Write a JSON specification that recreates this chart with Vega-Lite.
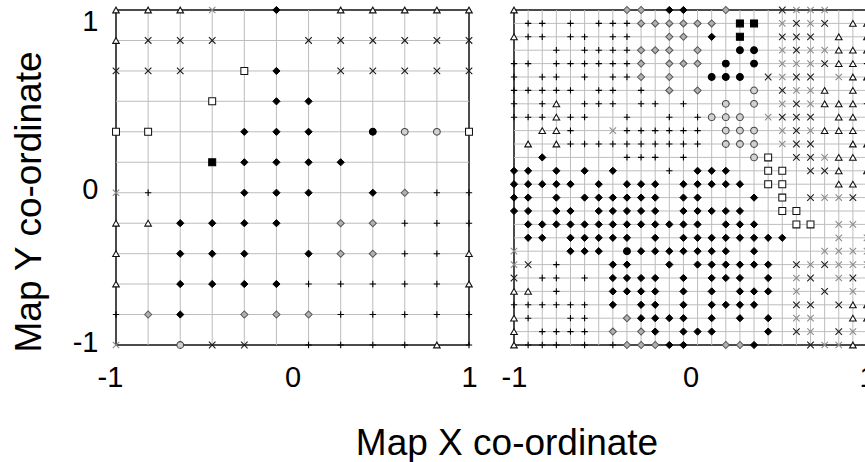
{
  "$schema": "https://vega.github.io/schema/vega-lite/v6.json",
  "background": "white",
  "padding": {"left": 9, "top": 3, "right": 0, "bottom": 0},
  "bounds": "flush",
  "spacing": 45,
  "config": {
    "font": "Liberation Sans",
    "view": {"stroke": "#111", "strokeWidth": 1.5},
    "axis": {"labelColor": "#000", "titleColor": "#000", "labelFont": "Liberation Sans", "titleFont": "Liberation Sans"}
  },
  "datasets": {
    "coarse": [
      {"x": -1, "y": 1, "class": 7}, {"x": -0.818, "y": 1, "class": 7}, {"x": -0.636, "y": 1, "class": 7}, {"x": -0.455, "y": 1, "class": 9}, {"x": -0.091, "y": 1, "class": 1}, {"x": 0.273, "y": 1, "class": 7}, {"x": 0.455, "y": 1, "class": 7}, {"x": 0.636, "y": 1, "class": 7}, {"x": 0.818, "y": 1, "class": 7}, {"x": 1, "y": 1, "class": 7},
      {"x": -1, "y": 0.818, "class": 7}, {"x": -0.818, "y": 0.818, "class": 8}, {"x": -0.636, "y": 0.818, "class": 8}, {"x": -0.455, "y": 0.818, "class": 8}, {"x": 0.091, "y": 0.818, "class": 8}, {"x": 0.273, "y": 0.818, "class": 8}, {"x": 0.455, "y": 0.818, "class": 8}, {"x": 0.636, "y": 0.818, "class": 8}, {"x": 0.818, "y": 0.818, "class": 8}, {"x": 1, "y": 0.818, "class": 8},
      {"x": -1, "y": 0.636, "class": 8}, {"x": -0.818, "y": 0.636, "class": 8}, {"x": -0.636, "y": 0.636, "class": 8}, {"x": -0.273, "y": 0.636, "class": 4}, {"x": -0.091, "y": 0.636, "class": 1}, {"x": 0.273, "y": 0.636, "class": 8}, {"x": 0.455, "y": 0.636, "class": 8}, {"x": 0.636, "y": 0.636, "class": 8}, {"x": 0.818, "y": 0.636, "class": 8}, {"x": 1, "y": 0.636, "class": 8},
      {"x": -0.455, "y": 0.455, "class": 4}, {"x": -0.091, "y": 0.455, "class": 1}, {"x": 0.091, "y": 0.455, "class": 1},
      {"x": -1, "y": 0.273, "class": 4}, {"x": -0.818, "y": 0.273, "class": 4}, {"x": -0.273, "y": 0.273, "class": 1}, {"x": -0.091, "y": 0.273, "class": 1}, {"x": 0.091, "y": 0.273, "class": 1}, {"x": 0.455, "y": 0.273, "class": 5}, {"x": 0.636, "y": 0.273, "class": 6}, {"x": 0.818, "y": 0.273, "class": 6}, {"x": 1, "y": 0.273, "class": 4},
      {"x": -0.455, "y": 0.091, "class": 3}, {"x": -0.273, "y": 0.091, "class": 1}, {"x": -0.091, "y": 0.091, "class": 1}, {"x": 0.091, "y": 0.091, "class": 1}, {"x": 0.273, "y": 0.091, "class": 1},
      {"x": -1, "y": -0.091, "class": 9}, {"x": -0.818, "y": -0.091, "class": 10}, {"x": -0.273, "y": -0.091, "class": 1}, {"x": -0.091, "y": -0.091, "class": 1}, {"x": 0.091, "y": -0.091, "class": 1}, {"x": 0.455, "y": -0.091, "class": 1}, {"x": 0.636, "y": -0.091, "class": 2}, {"x": 0.818, "y": -0.091, "class": 10}, {"x": 1, "y": -0.091, "class": 10},
      {"x": -1, "y": -0.273, "class": 7}, {"x": -0.818, "y": -0.273, "class": 7}, {"x": -0.636, "y": -0.273, "class": 1}, {"x": -0.455, "y": -0.273, "class": 1}, {"x": -0.273, "y": -0.273, "class": 1}, {"x": -0.091, "y": -0.273, "class": 1}, {"x": 0.273, "y": -0.273, "class": 2}, {"x": 0.455, "y": -0.273, "class": 2}, {"x": 0.636, "y": -0.273, "class": 10}, {"x": 0.818, "y": -0.273, "class": 10}, {"x": 1, "y": -0.273, "class": 10},
      {"x": -1, "y": -0.455, "class": 7}, {"x": -0.636, "y": -0.455, "class": 1}, {"x": -0.455, "y": -0.455, "class": 1}, {"x": -0.273, "y": -0.455, "class": 1}, {"x": 0.091, "y": -0.455, "class": 1}, {"x": 0.273, "y": -0.455, "class": 2}, {"x": 0.455, "y": -0.455, "class": 2}, {"x": 0.636, "y": -0.455, "class": 10}, {"x": 0.818, "y": -0.455, "class": 10}, {"x": 1, "y": -0.455, "class": 7},
      {"x": -1, "y": -0.636, "class": 7}, {"x": -0.636, "y": -0.636, "class": 1}, {"x": -0.455, "y": -0.636, "class": 1}, {"x": -0.273, "y": -0.636, "class": 1}, {"x": -0.091, "y": -0.636, "class": 1}, {"x": 0.091, "y": -0.636, "class": 10}, {"x": 0.273, "y": -0.636, "class": 10}, {"x": 0.455, "y": -0.636, "class": 10}, {"x": 0.636, "y": -0.636, "class": 10}, {"x": 0.818, "y": -0.636, "class": 10}, {"x": 1, "y": -0.636, "class": 7},
      {"x": -1, "y": -0.818, "class": 10}, {"x": -0.818, "y": -0.818, "class": 2}, {"x": -0.636, "y": -0.818, "class": 1}, {"x": -0.273, "y": -0.818, "class": 2}, {"x": -0.091, "y": -0.818, "class": 2}, {"x": 0.091, "y": -0.818, "class": 2}, {"x": 0.273, "y": -0.818, "class": 10}, {"x": 0.455, "y": -0.818, "class": 10}, {"x": 0.636, "y": -0.818, "class": 10}, {"x": 0.818, "y": -0.818, "class": 10}, {"x": 1, "y": -0.818, "class": 10},
      {"x": -1, "y": -1, "class": 9}, {"x": -0.636, "y": -1, "class": 6}, {"x": -0.455, "y": -1, "class": 8}, {"x": -0.273, "y": -1, "class": 8}, {"x": 0.091, "y": -1, "class": 10}, {"x": 0.273, "y": -1, "class": 10}, {"x": 0.455, "y": -1, "class": 10}, {"x": 0.636, "y": -1, "class": 10}, {"x": 0.818, "y": -1, "class": 7}, {"x": 1, "y": -1, "class": 10}
    ],
    "fine": [
      {"x": -1, "y": 1, "class": 7}, {"x": -0.36, "y": 1, "class": 2}, {"x": -0.28, "y": 1, "class": 2}, {"x": -0.12, "y": 1, "class": 1}, {"x": -0.04, "y": 1, "class": 1}, {"x": 0.2, "y": 1, "class": 2}, {"x": 0.52, "y": 1, "class": 8}, {"x": 0.6, "y": 1, "class": 9}, {"x": 0.68, "y": 1, "class": 9}, {"x": 0.76, "y": 1, "class": 9},
      {"x": -0.92, "y": 0.92, "class": 10}, {"x": -0.84, "y": 0.92, "class": 10}, {"x": -0.68, "y": 0.92, "class": 10}, {"x": -0.52, "y": 0.92, "class": 10}, {"x": -0.44, "y": 0.92, "class": 10}, {"x": -0.36, "y": 0.92, "class": 10}, {"x": -0.28, "y": 0.92, "class": 2}, {"x": -0.2, "y": 0.92, "class": 2}, {"x": -0.12, "y": 0.92, "class": 2}, {"x": -0.04, "y": 0.92, "class": 2}, {"x": 0.04, "y": 0.92, "class": 2}, {"x": 0.12, "y": 0.92, "class": 2}, {"x": 0.28, "y": 0.92, "class": 3}, {"x": 0.36, "y": 0.92, "class": 3}, {"x": 0.52, "y": 0.92, "class": 9}, {"x": 0.6, "y": 0.92, "class": 8}, {"x": 0.68, "y": 0.92, "class": 9}, {"x": 0.76, "y": 0.92, "class": 8}, {"x": 0.92, "y": 0.92, "class": 7}, {"x": 1, "y": 0.92, "class": 7},
      {"x": -1, "y": 0.84, "class": 7}, {"x": -0.92, "y": 0.84, "class": 10}, {"x": -0.84, "y": 0.84, "class": 10}, {"x": -0.68, "y": 0.84, "class": 10}, {"x": -0.6, "y": 0.84, "class": 10}, {"x": -0.44, "y": 0.84, "class": 10}, {"x": -0.36, "y": 0.84, "class": 10}, {"x": -0.12, "y": 0.84, "class": 2}, {"x": -0.04, "y": 0.84, "class": 2}, {"x": 0.12, "y": 0.84, "class": 1}, {"x": 0.28, "y": 0.84, "class": 3}, {"x": 0.52, "y": 0.84, "class": 8}, {"x": 0.6, "y": 0.84, "class": 8}, {"x": 0.68, "y": 0.84, "class": 8}, {"x": 0.84, "y": 0.84, "class": 7}, {"x": 1, "y": 0.84, "class": 7},
      {"x": -0.76, "y": 0.76, "class": 10}, {"x": -0.6, "y": 0.76, "class": 10}, {"x": -0.52, "y": 0.76, "class": 10}, {"x": -0.44, "y": 0.76, "class": 10}, {"x": -0.36, "y": 0.76, "class": 10}, {"x": -0.28, "y": 0.76, "class": 2}, {"x": -0.2, "y": 0.76, "class": 2}, {"x": -0.12, "y": 0.76, "class": 2}, {"x": 0.04, "y": 0.76, "class": 2}, {"x": 0.28, "y": 0.76, "class": 5}, {"x": 0.36, "y": 0.76, "class": 5}, {"x": 0.52, "y": 0.76, "class": 9}, {"x": 0.6, "y": 0.76, "class": 8}, {"x": 0.68, "y": 0.76, "class": 9}, {"x": 0.76, "y": 0.76, "class": 9}, {"x": 0.84, "y": 0.76, "class": 7}, {"x": 0.92, "y": 0.76, "class": 7}, {"x": 1, "y": 0.76, "class": 7},
      {"x": -1, "y": 0.68, "class": 10}, {"x": -0.92, "y": 0.68, "class": 10}, {"x": -0.76, "y": 0.68, "class": 10}, {"x": -0.68, "y": 0.68, "class": 10}, {"x": -0.6, "y": 0.68, "class": 10}, {"x": -0.52, "y": 0.68, "class": 10}, {"x": -0.44, "y": 0.68, "class": 10}, {"x": -0.36, "y": 0.68, "class": 10}, {"x": -0.28, "y": 0.68, "class": 2}, {"x": -0.12, "y": 0.68, "class": 2}, {"x": -0.04, "y": 0.68, "class": 2}, {"x": 0.04, "y": 0.68, "class": 2}, {"x": 0.2, "y": 0.68, "class": 5}, {"x": 0.36, "y": 0.68, "class": 5}, {"x": 0.52, "y": 0.68, "class": 9}, {"x": 0.6, "y": 0.68, "class": 9}, {"x": 0.68, "y": 0.68, "class": 9}, {"x": 0.76, "y": 0.68, "class": 8}, {"x": 0.84, "y": 0.68, "class": 7}, {"x": 0.92, "y": 0.68, "class": 7}, {"x": 1, "y": 0.68, "class": 10},
      {"x": -1, "y": 0.6, "class": 10}, {"x": -0.84, "y": 0.6, "class": 10}, {"x": -0.76, "y": 0.6, "class": 10}, {"x": -0.6, "y": 0.6, "class": 10}, {"x": -0.44, "y": 0.6, "class": 10}, {"x": -0.36, "y": 0.6, "class": 10}, {"x": -0.28, "y": 0.6, "class": 2}, {"x": -0.12, "y": 0.6, "class": 2}, {"x": 0.12, "y": 0.6, "class": 5}, {"x": 0.2, "y": 0.6, "class": 5}, {"x": 0.28, "y": 0.6, "class": 5}, {"x": 0.44, "y": 0.6, "class": 8}, {"x": 0.52, "y": 0.6, "class": 9}, {"x": 0.6, "y": 0.6, "class": 8}, {"x": 0.68, "y": 0.6, "class": 8}, {"x": 0.84, "y": 0.6, "class": 9}, {"x": 0.92, "y": 0.6, "class": 7}, {"x": 1, "y": 0.6, "class": 7},
      {"x": -1, "y": 0.52, "class": 10}, {"x": -0.92, "y": 0.52, "class": 10}, {"x": -0.84, "y": 0.52, "class": 10}, {"x": -0.76, "y": 0.52, "class": 10}, {"x": -0.68, "y": 0.52, "class": 10}, {"x": -0.52, "y": 0.52, "class": 10}, {"x": -0.44, "y": 0.52, "class": 10}, {"x": -0.28, "y": 0.52, "class": 10}, {"x": -0.12, "y": 0.52, "class": 2}, {"x": 0.04, "y": 0.52, "class": 2}, {"x": 0.36, "y": 0.52, "class": 6}, {"x": 0.52, "y": 0.52, "class": 8}, {"x": 0.6, "y": 0.52, "class": 9}, {"x": 0.68, "y": 0.52, "class": 9}, {"x": 0.76, "y": 0.52, "class": 7}, {"x": 0.92, "y": 0.52, "class": 7},
      {"x": -1, "y": 0.44, "class": 10}, {"x": -0.84, "y": 0.44, "class": 10}, {"x": -0.76, "y": 0.44, "class": 7}, {"x": -0.6, "y": 0.44, "class": 10}, {"x": -0.52, "y": 0.44, "class": 10}, {"x": -0.44, "y": 0.44, "class": 10}, {"x": -0.28, "y": 0.44, "class": 10}, {"x": -0.2, "y": 0.44, "class": 10}, {"x": -0.04, "y": 0.44, "class": 10}, {"x": 0.2, "y": 0.44, "class": 6}, {"x": 0.36, "y": 0.44, "class": 6}, {"x": 0.52, "y": 0.44, "class": 9}, {"x": 0.6, "y": 0.44, "class": 8}, {"x": 0.68, "y": 0.44, "class": 9}, {"x": 0.76, "y": 0.44, "class": 7}, {"x": 0.84, "y": 0.44, "class": 7}, {"x": 0.92, "y": 0.44, "class": 7}, {"x": 1, "y": 0.44, "class": 10},
      {"x": -1, "y": 0.36, "class": 10}, {"x": -0.92, "y": 0.36, "class": 10}, {"x": -0.84, "y": 0.36, "class": 10}, {"x": -0.76, "y": 0.36, "class": 7}, {"x": -0.68, "y": 0.36, "class": 10}, {"x": -0.6, "y": 0.36, "class": 10}, {"x": -0.36, "y": 0.36, "class": 10}, {"x": -0.12, "y": 0.36, "class": 10}, {"x": 0.04, "y": 0.36, "class": 10}, {"x": 0.12, "y": 0.36, "class": 6}, {"x": 0.2, "y": 0.36, "class": 6}, {"x": 0.28, "y": 0.36, "class": 6}, {"x": 0.44, "y": 0.36, "class": 9}, {"x": 0.52, "y": 0.36, "class": 8}, {"x": 0.6, "y": 0.36, "class": 8}, {"x": 0.68, "y": 0.36, "class": 8}, {"x": 0.84, "y": 0.36, "class": 7}, {"x": 0.92, "y": 0.36, "class": 7},
      {"x": -0.84, "y": 0.28, "class": 7}, {"x": -0.76, "y": 0.28, "class": 7}, {"x": -0.68, "y": 0.28, "class": 10}, {"x": -0.44, "y": 0.28, "class": 9}, {"x": -0.36, "y": 0.28, "class": 10}, {"x": -0.28, "y": 0.28, "class": 10}, {"x": -0.2, "y": 0.28, "class": 10}, {"x": -0.12, "y": 0.28, "class": 10}, {"x": -0.04, "y": 0.28, "class": 10}, {"x": 0.04, "y": 0.28, "class": 10}, {"x": 0.2, "y": 0.28, "class": 6}, {"x": 0.28, "y": 0.28, "class": 6}, {"x": 0.36, "y": 0.28, "class": 6}, {"x": 0.52, "y": 0.28, "class": 9}, {"x": 0.6, "y": 0.28, "class": 8}, {"x": 0.68, "y": 0.28, "class": 9}, {"x": 0.76, "y": 0.28, "class": 7}, {"x": 0.84, "y": 0.28, "class": 7}, {"x": 0.92, "y": 0.28, "class": 7},
      {"x": -0.92, "y": 0.2, "class": 7}, {"x": -0.76, "y": 0.2, "class": 7}, {"x": -0.68, "y": 0.2, "class": 10}, {"x": -0.6, "y": 0.2, "class": 10}, {"x": -0.52, "y": 0.2, "class": 10}, {"x": -0.44, "y": 0.2, "class": 10}, {"x": -0.36, "y": 0.2, "class": 10}, {"x": -0.28, "y": 0.2, "class": 10}, {"x": -0.2, "y": 0.2, "class": 10}, {"x": -0.12, "y": 0.2, "class": 10}, {"x": -0.04, "y": 0.2, "class": 10}, {"x": 0.04, "y": 0.2, "class": 10}, {"x": 0.2, "y": 0.2, "class": 6}, {"x": 0.28, "y": 0.2, "class": 6}, {"x": 0.36, "y": 0.2, "class": 6}, {"x": 0.52, "y": 0.2, "class": 9}, {"x": 0.6, "y": 0.2, "class": 8}, {"x": 0.68, "y": 0.2, "class": 8}, {"x": 0.92, "y": 0.2, "class": 7}, {"x": 1, "y": 0.2, "class": 7},
      {"x": -0.84, "y": 0.12, "class": 1}, {"x": -0.36, "y": 0.12, "class": 10}, {"x": -0.28, "y": 0.12, "class": 10}, {"x": -0.2, "y": 0.12, "class": 10}, {"x": -0.04, "y": 0.12, "class": 10}, {"x": 0.36, "y": 0.12, "class": 6}, {"x": 0.44, "y": 0.12, "class": 4}, {"x": 0.6, "y": 0.12, "class": 8}, {"x": 0.68, "y": 0.12, "class": 8}, {"x": 0.76, "y": 0.12, "class": 9}, {"x": 0.84, "y": 0.12, "class": 7}, {"x": 0.92, "y": 0.12, "class": 7},
      {"x": -1, "y": 0.04, "class": 1}, {"x": -0.92, "y": 0.04, "class": 1}, {"x": -0.76, "y": 0.04, "class": 1}, {"x": -0.6, "y": 0.04, "class": 1}, {"x": -0.44, "y": 0.04, "class": 1}, {"x": -0.12, "y": 0.04, "class": 10}, {"x": 0.04, "y": 0.04, "class": 1}, {"x": 0.12, "y": 0.04, "class": 1}, {"x": 0.2, "y": 0.04, "class": 1}, {"x": 0.44, "y": 0.04, "class": 4}, {"x": 0.52, "y": 0.04, "class": 4}, {"x": 0.68, "y": 0.04, "class": 8}, {"x": 0.76, "y": 0.04, "class": 8}, {"x": 0.84, "y": 0.04, "class": 7}, {"x": 1, "y": 0.04, "class": 7},
      {"x": -1, "y": -0.04, "class": 1}, {"x": -0.92, "y": -0.04, "class": 1}, {"x": -0.84, "y": -0.04, "class": 1}, {"x": -0.76, "y": -0.04, "class": 1}, {"x": -0.68, "y": -0.04, "class": 1}, {"x": -0.52, "y": -0.04, "class": 1}, {"x": -0.36, "y": -0.04, "class": 1}, {"x": -0.28, "y": -0.04, "class": 1}, {"x": -0.2, "y": -0.04, "class": 1}, {"x": -0.04, "y": -0.04, "class": 1}, {"x": 0.04, "y": -0.04, "class": 1}, {"x": 0.12, "y": -0.04, "class": 1}, {"x": 0.2, "y": -0.04, "class": 1}, {"x": 0.28, "y": -0.04, "class": 1}, {"x": 0.44, "y": -0.04, "class": 4}, {"x": 0.52, "y": -0.04, "class": 4}, {"x": 0.84, "y": -0.04, "class": 7}, {"x": 0.92, "y": -0.04, "class": 7},
      {"x": -1, "y": -0.12, "class": 1}, {"x": -0.92, "y": -0.12, "class": 1}, {"x": -0.76, "y": -0.12, "class": 1}, {"x": -0.6, "y": -0.12, "class": 1}, {"x": -0.52, "y": -0.12, "class": 1}, {"x": -0.44, "y": -0.12, "class": 1}, {"x": -0.36, "y": -0.12, "class": 1}, {"x": -0.28, "y": -0.12, "class": 1}, {"x": -0.2, "y": -0.12, "class": 1}, {"x": -0.04, "y": -0.12, "class": 1}, {"x": 0.04, "y": -0.12, "class": 1}, {"x": 0.36, "y": -0.12, "class": 1}, {"x": 0.52, "y": -0.12, "class": 4}, {"x": 0.68, "y": -0.12, "class": 8}, {"x": 0.76, "y": -0.12, "class": 9}, {"x": 0.84, "y": -0.12, "class": 9}, {"x": 0.92, "y": -0.12, "class": 8},
      {"x": -1, "y": -0.2, "class": 1}, {"x": -0.92, "y": -0.2, "class": 1}, {"x": -0.76, "y": -0.2, "class": 1}, {"x": -0.68, "y": -0.2, "class": 1}, {"x": -0.52, "y": -0.2, "class": 1}, {"x": -0.44, "y": -0.2, "class": 1}, {"x": -0.36, "y": -0.2, "class": 1}, {"x": -0.28, "y": -0.2, "class": 1}, {"x": -0.2, "y": -0.2, "class": 1}, {"x": -0.04, "y": -0.2, "class": 1}, {"x": 0.04, "y": -0.2, "class": 1}, {"x": 0.12, "y": -0.2, "class": 1}, {"x": 0.2, "y": -0.2, "class": 1}, {"x": 0.28, "y": -0.2, "class": 1}, {"x": 0.52, "y": -0.2, "class": 4}, {"x": 0.6, "y": -0.2, "class": 4},
      {"x": -0.92, "y": -0.28, "class": 1}, {"x": -0.84, "y": -0.28, "class": 1}, {"x": -0.76, "y": -0.28, "class": 1}, {"x": -0.68, "y": -0.28, "class": 1}, {"x": -0.6, "y": -0.28, "class": 1}, {"x": -0.52, "y": -0.28, "class": 1}, {"x": -0.44, "y": -0.28, "class": 1}, {"x": -0.36, "y": -0.28, "class": 1}, {"x": -0.28, "y": -0.28, "class": 1}, {"x": -0.2, "y": -0.28, "class": 1}, {"x": -0.12, "y": -0.28, "class": 1}, {"x": -0.04, "y": -0.28, "class": 1}, {"x": 0.04, "y": -0.28, "class": 1}, {"x": 0.2, "y": -0.28, "class": 1}, {"x": 0.28, "y": -0.28, "class": 1}, {"x": 0.36, "y": -0.28, "class": 1}, {"x": 0.6, "y": -0.28, "class": 4}, {"x": 0.68, "y": -0.28, "class": 4}, {"x": 0.84, "y": -0.28, "class": 9}, {"x": 0.92, "y": -0.28, "class": 9},
      {"x": -0.92, "y": -0.36, "class": 1}, {"x": -0.84, "y": -0.36, "class": 1}, {"x": -0.68, "y": -0.36, "class": 1}, {"x": -0.6, "y": -0.36, "class": 1}, {"x": -0.52, "y": -0.36, "class": 1}, {"x": -0.44, "y": -0.36, "class": 1}, {"x": -0.36, "y": -0.36, "class": 1}, {"x": -0.2, "y": -0.36, "class": 1}, {"x": -0.04, "y": -0.36, "class": 1}, {"x": 0.04, "y": -0.36, "class": 1}, {"x": 0.12, "y": -0.36, "class": 1}, {"x": 0.2, "y": -0.36, "class": 1}, {"x": 0.28, "y": -0.36, "class": 1}, {"x": 0.36, "y": -0.36, "class": 1}, {"x": 0.44, "y": -0.36, "class": 1}, {"x": 0.52, "y": -0.36, "class": 1}, {"x": 0.84, "y": -0.36, "class": 9}, {"x": 1, "y": -0.36, "class": 9},
      {"x": -1, "y": -0.44, "class": 9}, {"x": -0.68, "y": -0.44, "class": 1}, {"x": -0.6, "y": -0.44, "class": 1}, {"x": -0.52, "y": -0.44, "class": 1}, {"x": -0.36, "y": -0.44, "class": 5}, {"x": -0.28, "y": -0.44, "class": 1}, {"x": -0.2, "y": -0.44, "class": 1}, {"x": -0.12, "y": -0.44, "class": 1}, {"x": -0.04, "y": -0.44, "class": 1}, {"x": 0.04, "y": -0.44, "class": 1}, {"x": 0.12, "y": -0.44, "class": 1}, {"x": 0.2, "y": -0.44, "class": 1}, {"x": 0.36, "y": -0.44, "class": 1}, {"x": 0.76, "y": -0.44, "class": 9}, {"x": 0.84, "y": -0.44, "class": 9}, {"x": 0.92, "y": -0.44, "class": 9}, {"x": 1, "y": -0.44, "class": 9},
      {"x": -1, "y": -0.52, "class": 9}, {"x": -0.92, "y": -0.52, "class": 8}, {"x": -0.76, "y": -0.52, "class": 10}, {"x": -0.44, "y": -0.52, "class": 1}, {"x": -0.36, "y": -0.52, "class": 1}, {"x": -0.12, "y": -0.52, "class": 1}, {"x": 0.04, "y": -0.52, "class": 1}, {"x": 0.12, "y": -0.52, "class": 1}, {"x": 0.2, "y": -0.52, "class": 1}, {"x": 0.28, "y": -0.52, "class": 1}, {"x": 0.36, "y": -0.52, "class": 1}, {"x": 0.44, "y": -0.52, "class": 1}, {"x": 0.6, "y": -0.52, "class": 8}, {"x": 0.68, "y": -0.52, "class": 9}, {"x": 0.76, "y": -0.52, "class": 8}, {"x": 0.84, "y": -0.52, "class": 9}, {"x": 0.92, "y": -0.52, "class": 9}, {"x": 1, "y": -0.52, "class": 9},
      {"x": -1, "y": -0.6, "class": 8}, {"x": -0.84, "y": -0.6, "class": 10}, {"x": -0.76, "y": -0.6, "class": 10}, {"x": -0.6, "y": -0.6, "class": 10}, {"x": -0.44, "y": -0.6, "class": 1}, {"x": -0.36, "y": -0.6, "class": 1}, {"x": -0.28, "y": -0.6, "class": 1}, {"x": -0.2, "y": -0.6, "class": 1}, {"x": -0.04, "y": -0.6, "class": 1}, {"x": 0.12, "y": -0.6, "class": 1}, {"x": 0.2, "y": -0.6, "class": 1}, {"x": 0.28, "y": -0.6, "class": 1}, {"x": 0.44, "y": -0.6, "class": 1}, {"x": 0.6, "y": -0.6, "class": 9}, {"x": 0.68, "y": -0.6, "class": 8}, {"x": 0.84, "y": -0.6, "class": 9}, {"x": 0.92, "y": -0.6, "class": 8},
      {"x": -1, "y": -0.68, "class": 7}, {"x": -0.92, "y": -0.68, "class": 7}, {"x": -0.76, "y": -0.68, "class": 10}, {"x": -0.44, "y": -0.68, "class": 1}, {"x": -0.36, "y": -0.68, "class": 1}, {"x": -0.28, "y": -0.68, "class": 1}, {"x": -0.2, "y": -0.68, "class": 1}, {"x": -0.04, "y": -0.68, "class": 1}, {"x": 0.12, "y": -0.68, "class": 1}, {"x": 0.28, "y": -0.68, "class": 1}, {"x": 0.36, "y": -0.68, "class": 1}, {"x": 0.44, "y": -0.68, "class": 1}, {"x": 0.6, "y": -0.68, "class": 9}, {"x": 0.76, "y": -0.68, "class": 8}, {"x": 0.92, "y": -0.68, "class": 9},
      {"x": -1, "y": -0.76, "class": 10}, {"x": -0.92, "y": -0.76, "class": 10}, {"x": -0.84, "y": -0.76, "class": 10}, {"x": -0.76, "y": -0.76, "class": 10}, {"x": -0.68, "y": -0.76, "class": 10}, {"x": -0.6, "y": -0.76, "class": 10}, {"x": -0.44, "y": -0.76, "class": 1}, {"x": -0.28, "y": -0.76, "class": 1}, {"x": -0.2, "y": -0.76, "class": 1}, {"x": -0.04, "y": -0.76, "class": 1}, {"x": 0.12, "y": -0.76, "class": 1}, {"x": 0.2, "y": -0.76, "class": 1}, {"x": 0.28, "y": -0.76, "class": 1}, {"x": 0.36, "y": -0.76, "class": 1}, {"x": 0.6, "y": -0.76, "class": 8}, {"x": 0.68, "y": -0.76, "class": 8}, {"x": 0.84, "y": -0.76, "class": 8}, {"x": 0.92, "y": -0.76, "class": 7}, {"x": 1, "y": -0.76, "class": 7},
      {"x": -1, "y": -0.84, "class": 7}, {"x": -0.92, "y": -0.84, "class": 10}, {"x": -0.68, "y": -0.84, "class": 10}, {"x": -0.6, "y": -0.84, "class": 10}, {"x": -0.36, "y": -0.84, "class": 2}, {"x": -0.28, "y": -0.84, "class": 1}, {"x": -0.2, "y": -0.84, "class": 1}, {"x": -0.12, "y": -0.84, "class": 1}, {"x": -0.04, "y": -0.84, "class": 1}, {"x": 0.12, "y": -0.84, "class": 1}, {"x": 0.28, "y": -0.84, "class": 1}, {"x": 0.44, "y": -0.84, "class": 1}, {"x": 0.6, "y": -0.84, "class": 9}, {"x": 0.68, "y": -0.84, "class": 9}, {"x": 0.92, "y": -0.84, "class": 7}, {"x": 1, "y": -0.84, "class": 7},
      {"x": -1, "y": -0.92, "class": 7}, {"x": -0.84, "y": -0.92, "class": 10}, {"x": -0.76, "y": -0.92, "class": 10}, {"x": -0.68, "y": -0.92, "class": 10}, {"x": -0.6, "y": -0.92, "class": 10}, {"x": -0.44, "y": -0.92, "class": 2}, {"x": -0.28, "y": -0.92, "class": 2}, {"x": -0.2, "y": -0.92, "class": 1}, {"x": -0.04, "y": -0.92, "class": 1}, {"x": 0.04, "y": -0.92, "class": 1}, {"x": 0.12, "y": -0.92, "class": 1}, {"x": 0.44, "y": -0.92, "class": 1}, {"x": 0.6, "y": -0.92, "class": 8}, {"x": 0.68, "y": -0.92, "class": 9}, {"x": 0.84, "y": -0.92, "class": 8}, {"x": 0.92, "y": -0.92, "class": 9},
      {"x": -1, "y": -1, "class": 7}, {"x": -0.92, "y": -1, "class": 10}, {"x": -0.84, "y": -1, "class": 10}, {"x": -0.76, "y": -1, "class": 10}, {"x": -0.6, "y": -1, "class": 10}, {"x": -0.44, "y": -1, "class": 10}, {"x": -0.36, "y": -1, "class": 2}, {"x": -0.28, "y": -1, "class": 2}, {"x": -0.2, "y": -1, "class": 2}, {"x": -0.12, "y": -1, "class": 1}, {"x": -0.04, "y": -1, "class": 1}, {"x": 0.2, "y": -1, "class": 2}, {"x": 0.28, "y": -1, "class": 2}, {"x": 0.36, "y": -1, "class": 1}, {"x": 0.68, "y": -1, "class": 8}, {"x": 0.76, "y": -1, "class": 9}, {"x": 0.84, "y": -1, "class": 9}, {"x": 0.92, "y": -1, "class": 7}
    ]
  },
  "hconcat": [
    {
      "width": 353,
      "height": 335,
      "data": {"name": "coarse"},
      "layer": [
        {
          "transform": [{"aggregate": [{"op": "count", "as": "n"}], "groupby": ["x"]}, {"filter": "abs(datum.x) < 0.999"}],
          "mark": {"type": "rule", "color": "#bdbdbd", "strokeWidth": 1},
          "encoding": {"x": {"field": "x", "type": "quantitative", "scale": {"domain": [-1, 1], "nice": false, "zero": false},
            "axis": {"values": [-1, 0, 1], "grid": false, "ticks": false, "domain": false, "labelFlush": false, "labelFontSize": 29, "labelPadding": 18,
              "labelOffset": {"condition": {"test": "datum.value < -0.5", "value": -6}, "value": 0},
              "labelExpr": "datum.value == 0 ? '0' : (datum.value < 0 ? '-1' : '1')",
              "title": "Map X co-ordinate", "titleFontSize": 37, "titleFontWeight": "normal", "titleX": 390.5, "titleY": 109, "titleBaseline": "alphabetic", "titleAlign": "center"}}}
        },
        {
          "transform": [{"aggregate": [{"op": "count", "as": "n"}], "groupby": ["y"]}, {"filter": "abs(datum.y) < 0.999"}],
          "mark": {"type": "rule", "color": "#bdbdbd", "strokeWidth": 1},
          "encoding": {"y": {"field": "y", "type": "quantitative", "scale": {"domain": [-1, 1], "nice": false, "zero": false},
            "axis": {"values": [-1, 0, 1], "grid": false, "ticks": false, "domain": false, "labelFlush": false, "labelBaseline": "middle", "labelFontSize": 29, "labelPadding": 18,
              "labelOffset": {"condition": {"test": "datum.value < -0.5", "value": -2.5}, "value": 11.5},
              "labelExpr": "datum.value == 0 ? '0' : (datum.value < 0 ? '-1' : '1')",
              "title": "Map Y co-ordinate", "titleFontSize": 37, "titleFontWeight": "normal", "titleAngle": -90, "titleX": -76, "titleY": 191.5, "titleBaseline": "alphabetic", "titleAlign": "center"}}}
        },
        {
          "mark": {"type": "point", "filled": false, "opacity": 1},
          "encoding": {
            "x": {"field": "x", "type": "quantitative", "scale": {"domain": [-1, 1], "nice": false, "zero": false},
              "axis": {"values": [-1, 0, 1], "grid": false, "ticks": false, "domain": false, "labelFlush": false, "labelFontSize": 29, "labelPadding": 18,
                "labelOffset": {"condition": {"test": "datum.value < -0.5", "value": -6}, "value": 0},
                "labelExpr": "datum.value == 0 ? '0' : (datum.value < 0 ? '-1' : '1')",
                "title": "Map X co-ordinate", "titleFontSize": 37, "titleFontWeight": "normal", "titleX": 390.5, "titleY": 109, "titleBaseline": "alphabetic", "titleAlign": "center"}},
            "y": {"field": "y", "type": "quantitative", "scale": {"domain": [-1, 1], "nice": false, "zero": false},
              "axis": {"values": [-1, 0, 1], "grid": false, "ticks": false, "domain": false, "labelFlush": false, "labelBaseline": "middle", "labelFontSize": 29, "labelPadding": 18,
                "labelOffset": {"condition": {"test": "datum.value < -0.5", "value": -2.5}, "value": 11.5},
                "labelExpr": "datum.value == 0 ? '0' : (datum.value < 0 ? '-1' : '1')",
                "title": "Map Y co-ordinate", "titleFontSize": 37, "titleFontWeight": "normal", "titleAngle": -90, "titleX": -76, "titleY": 191.5, "titleBaseline": "alphabetic", "titleAlign": "center"}},
            "shape": {"field": "class", "type": "nominal", "legend": null, "scale": {"domain": [1, 2, 3, 4, 5, 6, 7, 8, 9, 10], "range": ["diamond", "diamond", "square", "square", "circle", "circle", "triangle-up", "M -1 -1 L 1 1 M -1 1 L 1 -1", "M -1 -1 L 1 1 M -1 1 L 1 -1", "M -1 0 L 1 0 M 0 -1 L 0 1"]}},
            "fill": {"field": "class", "type": "nominal", "legend": null, "scale": {"domain": [1, 2, 3, 4, 5, 6, 7, 8, 9, 10], "range": ["#000000", "#b0b0b0", "#000000", "#ffffff", "#000000", "#d0d0d0", "#ffffff", "transparent", "transparent", "transparent"]}},
            "stroke": {"field": "class", "type": "nominal", "legend": null, "scale": {"domain": [1, 2, 3, 4, 5, 6, 7, 8, 9, 10], "range": ["#000000", "#555555", "#000000", "#111111", "#000000", "#444444", "#111111", "#1a1a1a", "#8a8a8a", "#000000"]}},
            "strokeWidth": {"field": "class", "type": "nominal", "legend": null, "scale": {"domain": [1, 2, 3, 4, 5, 6, 7, 8, 9, 10], "range": [1, 1.1, 1, 1.2, 1, 1.4, 1.4, 1.7, 1.5, 1.2]}},
            "size": {"field": "class", "type": "nominal", "legend": null, "scale": {"domain": [1, 2, 3, 4, 5, 6, 7, 8, 9, 10], "range": [52, 40, 52, 30, 32, 24, 40, 90, 90, 49]}}
          }
        }
      ]
    },
    {
      "width": 353,
      "height": 335,
      "data": {"name": "fine"},
      "layer": [
        {
          "transform": [{"aggregate": [{"op": "count", "as": "n"}], "groupby": ["x"]}, {"filter": "abs(datum.x) < 0.999"}],
          "mark": {"type": "rule", "color": "#bdbdbd", "strokeWidth": 1},
          "encoding": {"x": {"field": "x", "type": "quantitative", "scale": {"domain": [-1, 1], "nice": false, "zero": false},
            "axis": {"values": [-1, 0, 1], "grid": false, "ticks": false, "domain": false, "labelFlush": false, "labelFontSize": 29, "labelPadding": 18,
              "labelExpr": "datum.value == 0 ? '0' : (datum.value < 0 ? '-1' : '1')", "title": null}}}
        },
        {
          "transform": [{"aggregate": [{"op": "count", "as": "n"}], "groupby": ["y"]}, {"filter": "abs(datum.y) < 0.999"}],
          "mark": {"type": "rule", "color": "#bdbdbd", "strokeWidth": 1},
          "encoding": {"y": {"field": "y", "type": "quantitative", "scale": {"domain": [-1, 1], "nice": false, "zero": false}, "axis": null}}
        },
        {
          "mark": {"type": "point", "filled": false, "opacity": 1},
          "encoding": {
            "x": {"field": "x", "type": "quantitative", "scale": {"domain": [-1, 1], "nice": false, "zero": false},
              "axis": {"values": [-1, 0, 1], "grid": false, "ticks": false, "domain": false, "labelFlush": false, "labelFontSize": 29, "labelPadding": 18,
                "labelExpr": "datum.value == 0 ? '0' : (datum.value < 0 ? '-1' : '1')", "title": null}},
            "y": {"field": "y", "type": "quantitative", "scale": {"domain": [-1, 1], "nice": false, "zero": false}, "axis": null},
            "shape": {"field": "class", "type": "nominal", "legend": null, "scale": {"domain": [1, 2, 3, 4, 5, 6, 7, 8, 9, 10], "range": ["diamond", "diamond", "square", "square", "circle", "circle", "triangle-up", "M -1 -1 L 1 1 M -1 1 L 1 -1", "M -1 -1 L 1 1 M -1 1 L 1 -1", "M -1 0 L 1 0 M 0 -1 L 0 1"]}},
            "fill": {"field": "class", "type": "nominal", "legend": null, "scale": {"domain": [1, 2, 3, 4, 5, 6, 7, 8, 9, 10], "range": ["#000000", "#b0b0b0", "#000000", "#ffffff", "#000000", "#d0d0d0", "#ffffff", "transparent", "transparent", "transparent"]}},
            "stroke": {"field": "class", "type": "nominal", "legend": null, "scale": {"domain": [1, 2, 3, 4, 5, 6, 7, 8, 9, 10], "range": ["#000000", "#555555", "#000000", "#111111", "#000000", "#444444", "#111111", "#1a1a1a", "#8a8a8a", "#000000"]}},
            "strokeWidth": {"field": "class", "type": "nominal", "legend": null, "scale": {"domain": [1, 2, 3, 4, 5, 6, 7, 8, 9, 10], "range": [1, 1.1, 1, 1.2, 1, 1.4, 1.4, 1.7, 1.5, 1.2]}},
            "size": {"field": "class", "type": "nominal", "legend": null, "scale": {"domain": [1, 2, 3, 4, 5, 6, 7, 8, 9, 10], "range": [52, 40, 52, 30, 32, 24, 40, 90, 90, 49]}}
          }
        }
      ]
    }
  ]
}
